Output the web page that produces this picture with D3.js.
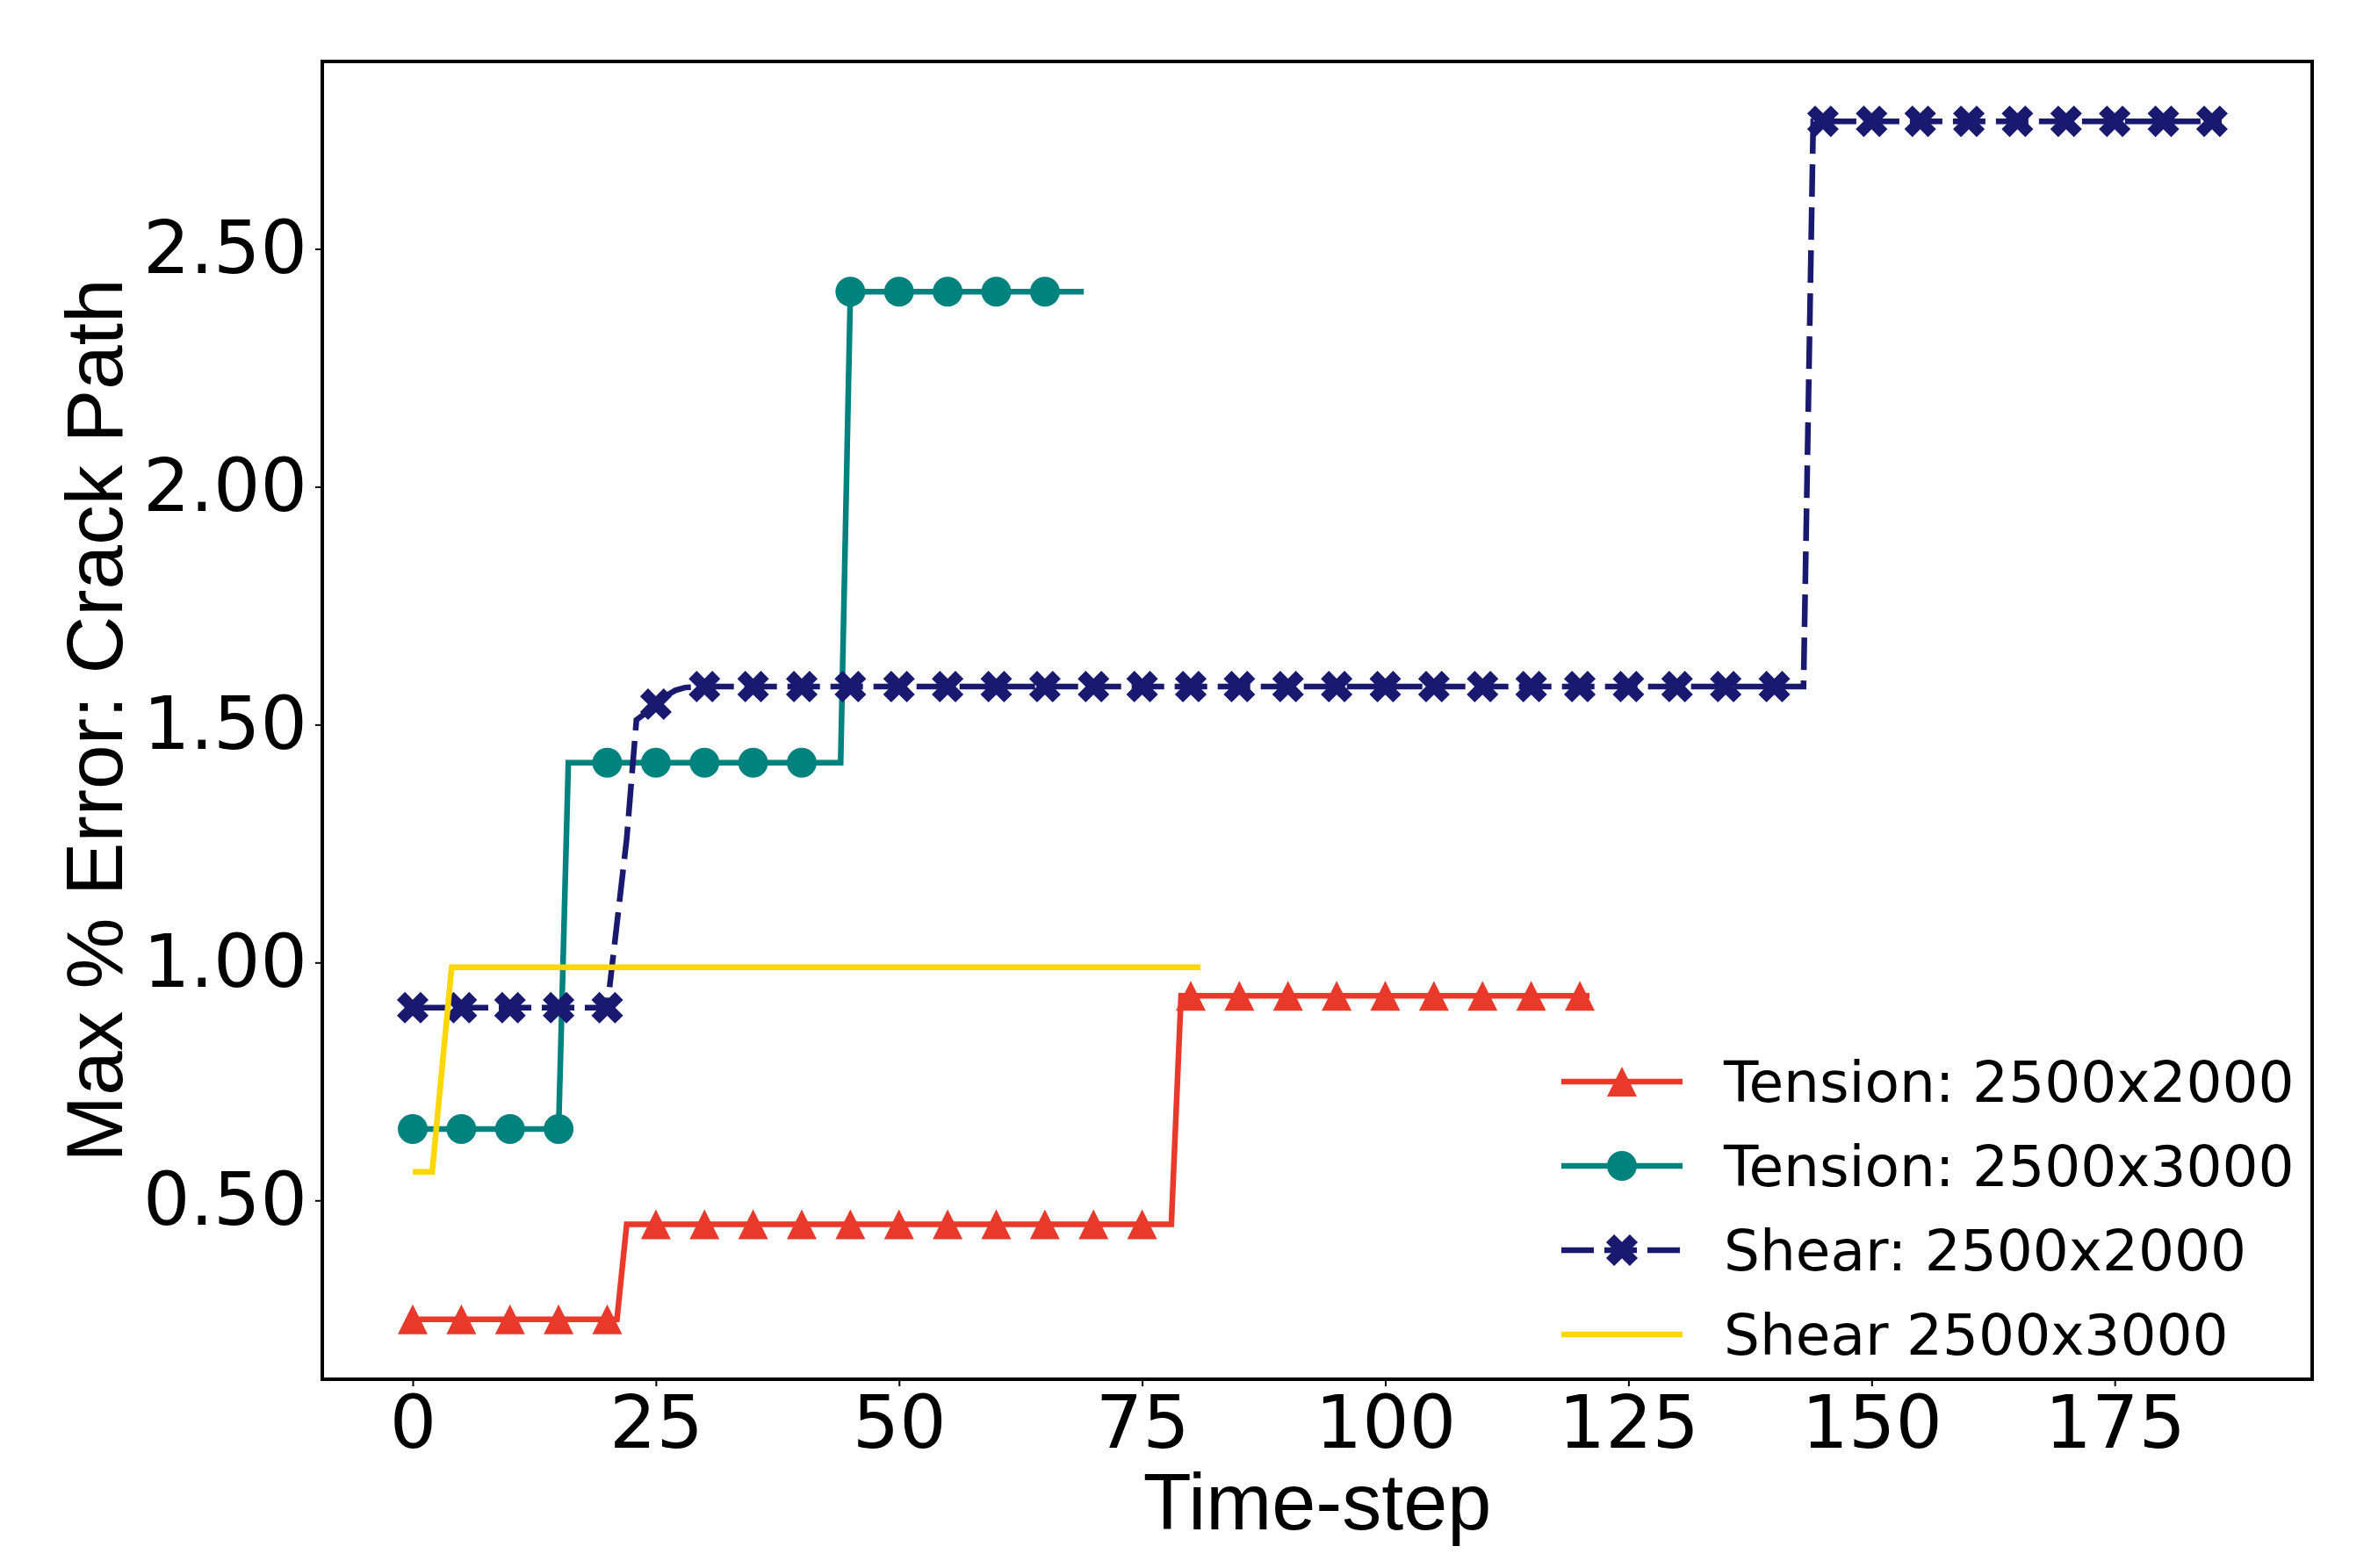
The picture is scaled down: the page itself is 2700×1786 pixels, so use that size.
<!DOCTYPE html>
<html>
<head>
<meta charset="utf-8">
<script src="https://cdn.jsdelivr.net/npm/d3@7"></script>
<style>
  body { margin: 0; background: #fff; }
  svg { display: block; }
</style>
</head>
<body>
<script>
const width = 2700
const height = 1786
const margin = ({top: 70, right: 67, bottom: 215, left: 367})

// data (time-step, max % error)
const tension2000T = [0, 5, 10, 15, 20, 21, 22, 25, 30, 35, 40, 45, 50, 55, 60, 65, 70, 75, 78, 79, 80, 85, 90, 95, 100, 105, 110, 115, 120, 121]
const tension2000V = [0.25, 0.25, 0.25, 0.25, 0.25, 0.25, 0.45, 0.45, 0.45, 0.45, 0.45, 0.45, 0.45, 0.45, 0.45, 0.45, 0.45, 0.45, 0.45, 0.93, 0.93, 0.93, 0.93, 0.93, 0.93, 0.93, 0.93, 0.93, 0.93, 0.93]

const tension3000T = [0, 5, 10, 15, 16, 20, 25, 30, 35, 40, 44, 45, 50, 55, 60, 65, 69]
const tension3000V = [0.65, 0.65, 0.65, 0.65, 1.42, 1.42, 1.42, 1.42, 1.42, 1.42, 1.42, 2.41, 2.41, 2.41, 2.41, 2.41, 2.41]

const shear2000T = [0, 5, 10, 15, 20, 22, 23, 24, 25, 26, 27, 28, 30, 35, 40, 45, 50, 55, 60, 65, 70, 75, 80, 85, 90, 95, 100, 105, 110, 115, 120, 125, 130, 135, 140, 143, 144, 145, 150, 155, 160, 165, 170, 175, 180, 185, 186]
const shear2000V = [0.905, 0.905, 0.905, 0.905, 0.905, 1.26, 1.51, 1.525, 1.543, 1.56, 1.572, 1.578, 1.58, 1.58, 1.58, 1.58, 1.58, 1.58, 1.58, 1.58, 1.58, 1.58, 1.58, 1.58, 1.58, 1.58, 1.58, 1.58, 1.58, 1.58, 1.58, 1.58, 1.58, 1.58, 1.58, 1.58, 2.768, 2.768, 2.768, 2.768, 2.768, 2.768, 2.768, 2.768, 2.768, 2.768, 2.768]

const shear3000T = [0, 2, 4, 81]
const shear3000V = [0.56, 0.56, 0.99, 0.99]

const labels = ["Tension: 2500x2000", "Tension: 2500x3000", "Shear: 2500x2000", "Shear 2500x3000"]
const xTicks = [0, 25, 50, 75, 100, 125, 150, 175]
const yTicks = [0.5, 1.0, 1.5, 2.0, 2.5]

const series = [
    {name: labels[0], t: tension2000T, v: tension2000V, color: "#e8392a", marker: "triangle", dash: null},
    {name: labels[1], t: tension3000T, v: tension3000V, color: "#00827f", marker: "circle", dash: null},
    {name: labels[2], t: shear2000T, v: shear2000V, color: "#191970", marker: "x", dash: "37,12"},
    {name: labels[3], t: shear3000T, v: shear3000V, color: "#ffd700", marker: null, dash: null}
]

const allT = series.flatMap(s => s.t)
const allV = series.flatMap(s => s.v)
const pad = (lo, hi) => [lo - (hi - lo) * 0.05, hi + (hi - lo) * 0.05]

const x = d3.scaleLinear()
    .domain(pad(d3.min(allT), d3.max(allT)))
    .range([margin.left, width - margin.right])

const y = d3.scaleLinear()
    .domain(pad(d3.min(allV), d3.max(allV)))
    .range([height - margin.bottom, margin.top])

const svg = d3.select("body").append("svg")
    .attr("width", width)
    .attr("height", height)
    .attr("viewBox", [0, 0, width, height])

const ms = 34
const markerPath = (kind) => {
    if (kind === "triangle") {
        return `M0,${-ms / 2}L${ms / 2},${ms / 2}L${-ms / 2},${ms / 2}Z`
    }
    if (kind === "x") {
        const a = ms * 0.56, b = ms * 0.19
        const pts = [[b, b], [a, b], [a, -b], [b, -b], [b, -a], [-b, -a], [-b, -b], [-a, -b], [-a, b], [-b, b], [-b, a], [b, a]]
        const c = Math.SQRT1_2
        return "M" + pts.map(([px, py]) => [(px - py) * c, (px + py) * c].join(",")).join("L") + "Z"
    }
    return null
}

const drawMarker = (g, kind, color, cx, cy) => {
    if (kind === "circle") {
        g.append("circle").attr("cx", cx).attr("cy", cy).attr("r", ms / 2).attr("fill", color)
    } else if (kind) {
        g.append("path").attr("d", markerPath(kind))
            .attr("transform", `translate(${cx},${cy})`)
            .attr("fill", color)
    }
}

// axes
const xAxis = g => g
    .attr("transform", `translate(0,${height - margin.bottom})`)
    .call(d3.axisBottom(x).tickValues(xTicks).tickSize(8).tickPadding(10).tickFormat(d3.format("d")))
    .call(g => g.select(".domain").remove())
    .call(g => g.selectAll(".tick line").attr("stroke-width", 2))
    .call(g => g.selectAll(".tick text")
        .attr("font-family", "DejaVu Sans")
        .attr("font-size", 84)
        .attr("fill", "#000"))

const yAxis = g => g
    .attr("transform", `translate(${margin.left},0)`)
    .call(d3.axisLeft(y).tickValues(yTicks).tickSize(8).tickPadding(9).tickFormat(d3.format(".2f")))
    .call(g => g.select(".domain").remove())
    .call(g => g.selectAll(".tick line").attr("stroke-width", 2))
    .call(g => g.selectAll(".tick text")
        .attr("font-family", "DejaVu Sans")
        .attr("font-size", 84)
        .attr("fill", "#000"))

svg.append("g").call(xAxis)
svg.append("g").call(yAxis)

// lines
const line = d3.line().x(d => x(d[0])).y(d => y(d[1]))

series.forEach(s => {
    const pts = s.t.map((t, i) => [t, s.v[i]])
    const g = svg.append("g")
    g.append("path")
        .attr("d", line(pts))
        .attr("fill", "none")
        .attr("stroke", s.color)
        .attr("stroke-width", 6.5)
        .attr("stroke-linejoin", "miter")
        .attr("stroke-linecap", "butt")
        .attr("stroke-dasharray", s.dash)
    if (s.marker) {
        pts.filter(d => d[0] % 5 === 0)
            .forEach(d => drawMarker(g, s.marker, s.color, x(d[0]), y(d[1])))
    }
})

// frame
svg.append("rect")
    .attr("x", margin.left)
    .attr("y", margin.top)
    .attr("width", width - margin.left - margin.right)
    .attr("height", height - margin.top - margin.bottom)
    .attr("fill", "none")
    .attr("stroke", "#000")
    .attr("stroke-width", 4)

// axis titles
svg.append("text")
    .attr("x", (margin.left + width - margin.right) / 2)
    .attr("y", 1742)
    .attr("text-anchor", "middle")
    .attr("font-family", "Liberation Sans, Arial, sans-serif")
    .attr("font-size", 90)
    .text("Time-step")

svg.append("text")
    .attr("transform", `translate(139,${(margin.top + height - margin.bottom) / 2}) rotate(-90)`)
    .attr("text-anchor", "middle")
    .attr("font-family", "Liberation Sans, Arial, sans-serif")
    .attr("font-size", 91)
    .text("Max % Error: Crack Path")

// legend
const legend = svg.append("g")
series.forEach((s, i) => {
    const ry = 1232 + i * 96
    legend.append("line")
        .attr("x1", 1778).attr("x2", 1916)
        .attr("y1", ry).attr("y2", ry)
        .attr("stroke", s.color)
        .attr("stroke-width", 6.5)
        .attr("stroke-dasharray", s.dash)
    drawMarker(legend, s.marker, s.color, 1847, ry)
    legend.append("text")
        .attr("x", 1963)
        .attr("y", ry + 23)
        .attr("font-family", "DejaVu Sans")
        .attr("font-size", 64.5)
        .text(s.name)
})
</script>
</body>
</html>
